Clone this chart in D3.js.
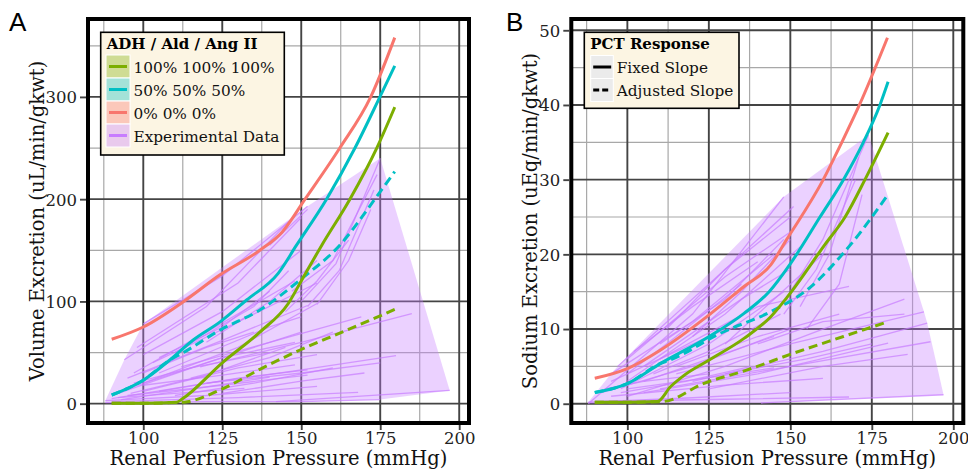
<!DOCTYPE html>
<html>
<head>
<meta charset="utf-8">
<script src="https://cdn.jsdelivr.net/npm/d3@7"></script>
<style>
  html, body { margin: 0; padding: 0; background: #fff; }
  svg { display: block; }
</style>
</head>
<body>
<svg id="chart" width="968" height="472"></svg>
<script>
// ---------------- DATA ----------------
const xTicks = [100, 125, 150, 175, 200];
const xMinorTicks = [87.5, 112.5, 137.5, 162.5, 187.5];
const yTicksA = [0, 100, 200, 300];
const yMinorTicksA = [50, 150, 250, 350];
const yTicksB = [0, 10, 20, 30, 40, 50];
const yMinorTicksB = [5, 15, 25, 35, 45];

const seriesNames = ["100% 100% 100%", "50% 50% 50%", "0% 0% 0%", "Experimental Data"];
const seriesColors = ["#7CAE00", "#00BFC4", "#F8766D", "#C77CFF"];
const slopeNames = ["Fixed Slope", "Adjusted Slope"];

// Panel A: volume excretion (uL/min/gkwt) vs renal perfusion pressure
const volRedFixed = [[90,63],[100,75],[112.7,99.7],[124.3,126],[136.9,150],[144,168],[151.2,200],[162.2,250],[172,300],[179.6,358]];
const volCyanFixed = [[90,8.5],[100,23],[108.4,42.7],[115.8,62.3],[124.3,80],[132.7,101.4],[142.7,127.5],[148.5,155],[158,200],[167,250],[174.9,300],[179.6,330.4]];
const volGreenFixed = [[90,0.4],[100,0.4],[110.6,1.5],[112.5,5],[125,40],[136.9,70],[145.9,98],[150,120],[156.5,155],[165.4,200],[173.9,250],[179.6,290]];
const volCyanAdj = [[90,8.5],[100,23],[108.4,42.7],[112.7,50],[124.3,72],[136.9,91.6],[150,122],[162.2,155],[173.3,200],[179.6,227]];
const volGreenAdj = [[90,0.4],[100,0.4],[110.6,1.2],[113,1.5],[124.3,13.4],[136.9,33.6],[149.6,52.5],[163.3,70.4],[180.2,93]];

const volExperimental = [
  [[94,43],[120,95],[146,178]],
  [[100,78],[125,125],[152,193]],
  [[98,55],[130,118],[150,182]],
  [[140,155],[152,190]],
  [[100,48],[125,90],[150,150]],
  [[97,30],[120,70],[148,120]],
  [[103,40],[130,80],[155,118]],
  [[95,25],[125,62],[152,96]],
  [[100,20],[130,55],[155,98]],
  [[105,30],[140,75],[150,85]],
  [[92,10],[120,40],[150,70]],
  [[95,15],[125,45],[148,60]],
  [[100,12],[130,35],[155,48]],
  [[90,5],[120,20],[150,30],[175,40]],
  [[118,36],[150,60],[185,88]],
  [[112,36],[140,60],[169,85]],
  [[120,20],[150,33],[180,47]],
  [[88,3],[120,8],[155,17]],
  [[90,2],[130,6],[168,11]],
  [[142,2],[197,13]],
  [[88,1],[120,2],[150,2],[175,4]],
  [[95,8],[125,18],[152,28]],
  [[100,18],[125,28],[148,38]],
  [[105,12],[130,25],[152,33]],
  [[93,4],[115,14],[140,26]],
  [[150,100],[161,137],[175,240]],
  [[152,95],[162,130],[173,209]],
  [[147,110],[160,140],[174,224]],
  [[155,97],[165,140],[172,190]],
  [[145,90],[155,120],[165,160]],
  [[120,60],[140,100],[155,140]],
  [[110,50],[135,95],[146,130]],
  [[105,45],[125,75],[140,110]],
  [[100,30],[120,55],[135,70]],
  [[97,20],[115,35],[140,50]],
  [[110,8],[135,20],[160,35]],
  [[125,10],[150,22],[170,30]],
  [[92,6],[110,10],[132,15]],
  [[96,10],[120,28],[145,55]],
  [[115,25],[140,45],[160,70]]
];

// Panel B: sodium excretion (uEq/min/gkwt) vs renal perfusion pressure
const naRedFixed = [[90,3.4],[100,4.7],[110.2,7.2],[125.1,11.9],[135.8,15.7],[144,18.6],[148.9,22],[160.1,30],[165.8,35],[171.2,40],[179.8,49]];
const naCyanFixed = [[90,1.5],[100,2.7],[110.2,5.4],[125.1,9],[135.8,12.1],[143.5,15],[150.1,18.8],[159.1,25],[166.3,30],[172.4,35],[177.5,40],[180,43.1]];
const naGreenFixed = [[90,0.2],[100,0.2],[109.2,0.3],[113.3,2.3],[117.4,3.8],[125.1,5.85],[135.8,8.75],[144,11.65],[149.1,14.3],[160.6,21.3],[166.8,25],[172.9,30],[180,36.3]];
const naCyanAdj = [[90,1.5],[100,2.7],[110.2,5.4],[113.1,5.85],[128.4,9.4],[144.8,12.5],[155,15.2],[168.3,21.2],[179.8,27.9]];
const naGreenAdj = [[90,0.2],[100,0.2],[111,0.3],[123.3,2.7],[136.6,4.5],[150.9,6.75],[166.3,9],[180.1,11]];

const naExperimental = [
  [[88,0],[120,12],[148,27.7]],
  [[97,5],[125,16],[151,26.4]],
  [[100,6],[130,17],[150,23]],
  [[95,4],[120,11],[145,20]],
  [[100,3],[130,12],[153,21]],
  [[105,5],[135,14],[150,18]],
  [[98,2],[125,8],[148,15]],
  [[110,6],[140,13],[168,15.7]],
  [[92,1.5],[120,5],[150,10]],
  [[100,1],[130,5],[160,10],[185,14]],
  [[115,4],[150,8],[191,12.3]],
  [[120,3],[160,7],[192,10.8]],
  [[110,2],[150,5],[193,8.3]],
  [[125,2],[160,5],[186,6.6]],
  [[105,1.5],[140,4],[180,8.1]],
  [[90,0.3],[130,0.6],[168,0.9]],
  [[141,0.1],[197,1.2]],
  [[95,1],[130,2.5],[160,3.4]],
  [[88,0.2],[120,0.8],[150,1.5]],
  [[100,2],[125,3.5],[145,4.8]],
  [[153,13],[162,20],[171,33]],
  [[150,15],[160,22],[174,36]],
  [[148,12],[158,18],[170,30]],
  [[155,10],[165,16],[172,28]],
  [[130,8],[145,14],[160,20]],
  [[120,9],[135,15],[150,22]],
  [[110,8],[130,14],[148,22]],
  [[102,7],[120,13],[140,19]],
  [[95,3],[110,6],[130,10]],
  [[105,3],[125,6],[145,9]],
  [[115,5],[140,9],[165,12]],
  [[130,4],[155,6],[175,8]],
  [[98,1.5],[118,3],[138,5]],
  [[108,4],[125,7],[147,12]],
  [[112,10],[130,18],[150,25]],
  [[100,4],[115,9],[135,16]],
  [[140,8],[160,11],[185,12]],
  [[93,2],[105,3],[125,4]]
];

// ---------------- DRAWING ----------------
const svg = d3.select("#chart");
const SERIF = "'DejaVu Serif', serif";

function drawPanel(cfg) {
  const x = d3.scaleLinear().domain(cfg.xDomain).range([cfg.left, cfg.right]);
  const y = d3.scaleLinear().domain(cfg.yDomain).range([cfg.bottom, cfg.top]);
  const g = svg.append("g");

  // grid
  const grid = g.append("g");
  grid.selectAll(".vmin").data(xMinorTicks).join("line")
    .attr("x1", d => x(d)).attr("x2", d => x(d)).attr("y1", cfg.top).attr("y2", cfg.bottom)
    .attr("stroke", "#a8a8a8").attr("stroke-width", 1.2);
  grid.selectAll(".hmin").data(cfg.yMinor).join("line")
    .attr("y1", d => y(d)).attr("y2", d => y(d)).attr("x1", cfg.left).attr("x2", cfg.right)
    .attr("stroke", "#a8a8a8").attr("stroke-width", 1.2);
  grid.selectAll(".vmaj").data(xTicks).join("line")
    .attr("x1", d => x(d)).attr("x2", d => x(d)).attr("y1", cfg.top).attr("y2", cfg.bottom)
    .attr("stroke", "#444").attr("stroke-width", 1.9);
  grid.selectAll(".hmaj").data(cfg.yTicks).join("line")
    .attr("y1", d => y(d)).attr("y2", d => y(d)).attr("x1", cfg.left).attr("x2", cfg.right)
    .attr("stroke", "#444").attr("stroke-width", 1.9);

  // experimental hull + lines
  const pts = cfg.exp.flat().map(p => [x(p[0]), y(p[1])]);
  const hull = d3.polygonHull(pts);
  g.append("path").attr("d", "M" + hull.join("L") + "Z")
    .attr("fill", "#C77CFF").attr("fill-opacity", 0.35).attr("stroke", "none");

  const line = d3.line().x(d => x(d[0])).y(d => y(d[1]));
  const smooth = d3.line().x(d => x(d[0])).y(d => y(d[1])).curve(d3.curveMonotoneX);
  g.append("g").selectAll("path").data(cfg.exp).join("path")
    .attr("d", line).attr("fill", "none").attr("stroke", "#C77CFF")
    .attr("stroke-opacity", 0.7).attr("stroke-width", 1.3);

  // model curves
  const models = [
    { d: cfg.greenAdj, c: seriesColors[0], dash: "9,5" },
    { d: cfg.cyanAdj, c: seriesColors[1], dash: "9,5" },
    { d: cfg.redFixed, c: seriesColors[2], dash: null },
    { d: cfg.cyanFixed, c: seriesColors[1], dash: null },
    { d: cfg.greenFixed, c: seriesColors[0], dash: null }
  ];
  g.append("g").selectAll("path").data(models).join("path")
    .attr("d", m => smooth(m.d)).attr("fill", "none").attr("stroke", m => m.c)
    .attr("stroke-width", 3).attr("stroke-dasharray", m => m.dash)
    .attr("stroke-linejoin", "round");

  // border
  g.append("rect").attr("x", cfg.left).attr("y", cfg.top)
    .attr("width", cfg.right - cfg.left).attr("height", cfg.bottom - cfg.top)
    .attr("fill", "none").attr("stroke", "#000").attr("stroke-width", 4);

  // axes
  const xAxis = g.append("g").attr("transform", `translate(0,${cfg.bottom + 2})`)
    .call(d3.axisBottom(x).tickValues(xTicks).tickSize(5).tickPadding(2).tickFormat(d3.format("d")));
  const yAxis = g.append("g").attr("transform", `translate(${cfg.left - 2},0)`)
    .call(d3.axisLeft(y).tickValues(cfg.yTicks).tickSize(6).tickPadding(3).tickFormat(d3.format("d")));
  [xAxis, yAxis].forEach(a => {
    a.select(".domain").remove();
    a.selectAll(".tick line").attr("stroke", "#444").attr("stroke-width", 1.9);
    a.selectAll(".tick text").attr("font-family", SERIF).attr("font-size", 16.5).attr("fill", "#222");
  });
  xAxis.selectAll(".tick text").attr("dy", "0.71em");
  yAxis.selectAll(".tick text").attr("dy", "0.36em");

  // titles
  g.append("text").attr("x", (cfg.left + cfg.right) / 2).attr("y", 465)
    .attr("text-anchor", "middle").attr("font-family", SERIF).attr("font-size", 19.5)
    .attr("fill", "#111").text("Renal Perfusion Pressure (mmHg)");
  g.append("text").attr("transform", `translate(${cfg.yTitleX},${(cfg.top + cfg.bottom) / 2}) rotate(-90)`)
    .attr("text-anchor", "middle").attr("font-family", SERIF).attr("font-size", 19.5)
    .attr("fill", "#111").text(cfg.yTitle);
  g.append("text").attr("x", cfg.labelX).attr("y", 31)
    .attr("font-family", "'Liberation Sans', Arial, sans-serif").attr("font-size", 26)
    .attr("fill", "#000").text(cfg.label);
  return g;
}

const gA = drawPanel({
  left: 88, right: 469, top: 19, bottom: 423,
  xDomain: [82.5, 203.1], yDomain: [-18.9, 376.2],
  yTicks: yTicksA, yMinor: yMinorTicksA,
  exp: volExperimental,
  redFixed: volRedFixed, cyanFixed: volCyanFixed, greenFixed: volGreenFixed,
  cyanAdj: volCyanAdj, greenAdj: volGreenAdj,
  yTitle: "Volume Excretion (uL/min/gkwt)", yTitleX: 44, label: "A", labelX: 9
});
const gB = drawPanel({
  left: 571.3, right: 963.3, top: 19, bottom: 423,
  xDomain: [82.8, 203.07], yDomain: [-2.58, 51.51],
  yTicks: yTicksB, yMinor: yMinorTicksB,
  exp: naExperimental,
  redFixed: naRedFixed, cyanFixed: naCyanFixed, greenFixed: naGreenFixed,
  cyanAdj: naCyanAdj, greenAdj: naGreenAdj,
  yTitle: "Sodium Excretion (uEq/min/gkwt)", yTitleX: 537, label: "B", labelX: 506
});

// ---------------- LEGENDS ----------------
function legendBox(g, x0, y0, w, h, title) {
  g.append("rect").attr("x", x0).attr("y", y0).attr("width", w).attr("height", h)
    .attr("fill", "#FCF5E3").attr("stroke", "#000").attr("stroke-width", 1.6);
  g.append("text").attr("x", x0 + 6).attr("y", y0 + 17).attr("font-family", SERIF)
    .attr("font-weight", "bold").attr("font-size", 15).attr("fill", "#000").text(title);
}

// Legend A
{
  const lg = gA.append("g");
  legendBox(lg, 100.7, 32.3, 183.6, 122.7, "ADH / Ald / Ang II");
  const rows = lg.selectAll("g.row").data(seriesNames).join("g")
    .attr("transform", (d, i) => `translate(106,${55 + i * 23})`);
  rows.append("rect").attr("width", 24).attr("height", 23)
    .attr("fill", (d, i) => seriesColors[i]).attr("fill-opacity", 0.35)
    .attr("stroke", "#fff").attr("stroke-width", 1);
  rows.append("line").attr("x1", 3).attr("x2", 21).attr("y1", 11.5).attr("y2", 11.5)
    .attr("stroke", (d, i) => seriesColors[i]).attr("stroke-width", 3);
  rows.append("text").attr("x", 27.5).attr("y", 17.5).attr("font-family", SERIF)
    .attr("font-size", 15.3).attr("fill", "#111").text(d => d);
}
// Legend B
{
  const lg = gB.append("g");
  legendBox(lg, 584.3, 32.3, 154.7, 76, "PCT Response");
  const rows = lg.selectAll("g.row").data(slopeNames).join("g")
    .attr("transform", (d, i) => `translate(590.7,${55.5 + i * 23})`);
  rows.append("rect").attr("width", 22.6).attr("height", 23)
    .attr("fill", "#EBEBEB").attr("stroke", "#fff").attr("stroke-width", 1);
  rows.append("line").attr("x1", 2.5).attr("x2", 20.5).attr("y1", 11.5).attr("y2", 11.5)
    .attr("stroke", "#000").attr("stroke-width", 3)
    .attr("stroke-dasharray", (d, i) => i === 0 ? null : "6,3");
  rows.append("text").attr("x", 26).attr("y", 17.5).attr("font-family", SERIF)
    .attr("font-size", 15.3).attr("fill", "#111").text(d => d);
}
</script>
</body>
</html>
